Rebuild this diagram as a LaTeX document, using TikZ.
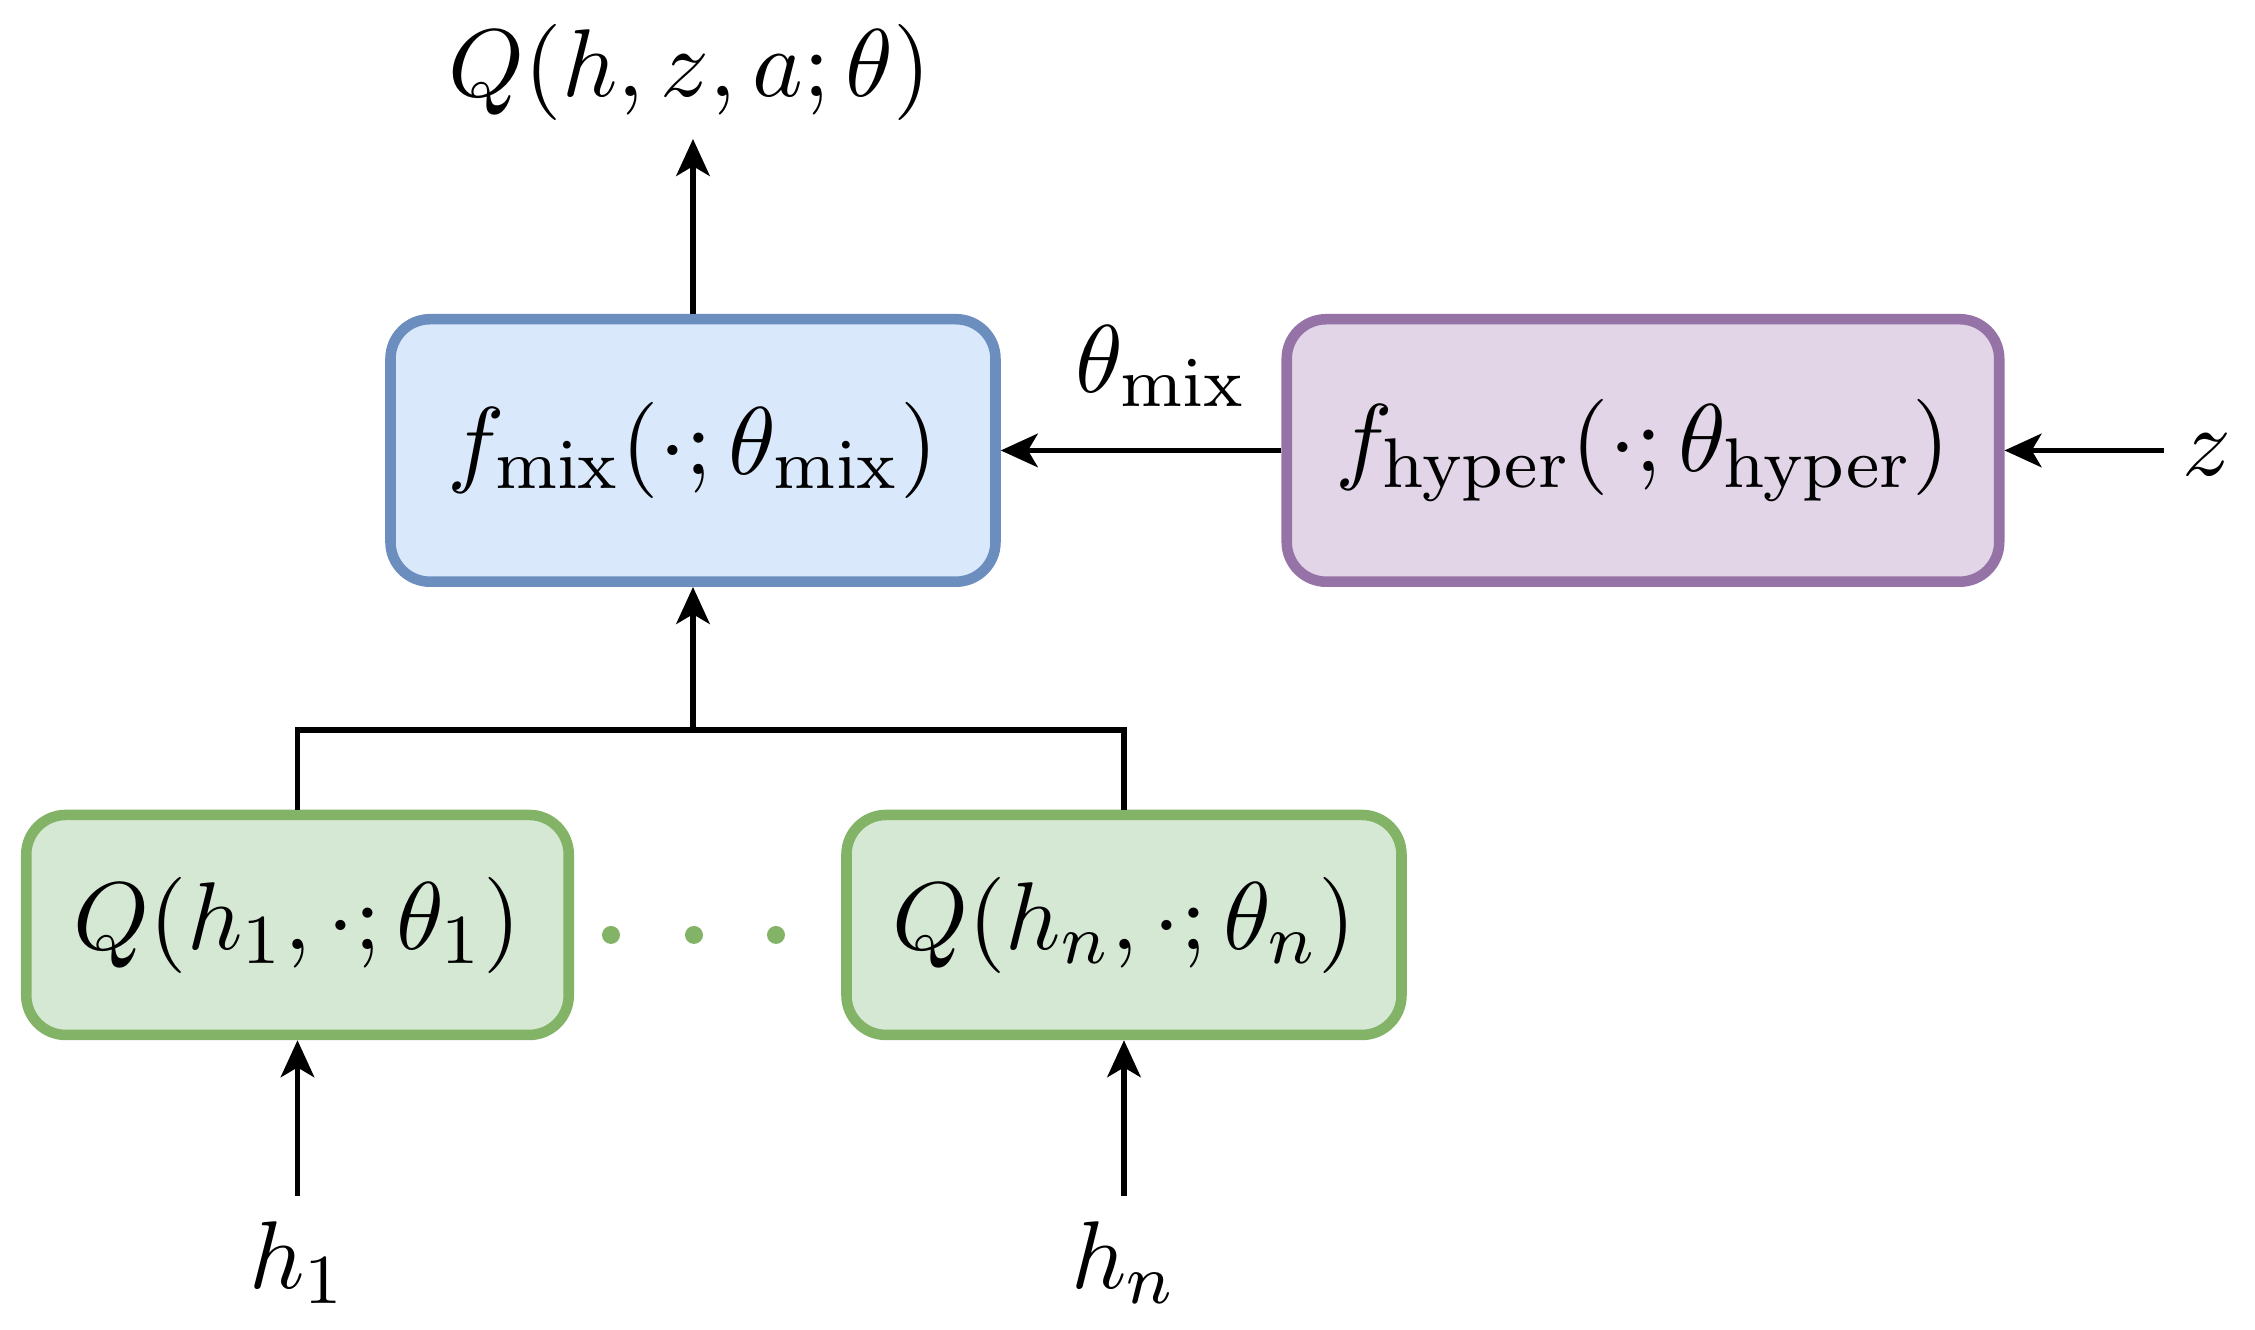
\documentclass[11pt,tikz,border=0pt]{standalone}
\usepackage{amsmath}
\usepackage{tikz}
\usetikzlibrary{arrows.meta, positioning}

\definecolor{mixfill}{HTML}{DAE8FC}
\definecolor{mixdraw}{HTML}{6C8EBF}
\definecolor{hypfill}{HTML}{E1D5E7}
\definecolor{hypdraw}{HTML}{9673A6}
\definecolor{agtfill}{HTML}{D5E8D4}
\definecolor{agtdraw}{HTML}{82B366}

\begin{document}
\begin{tikzpicture}[
    block/.style={draw, line width=1.2pt, rounded corners=4.5pt, minimum height=1.05cm, inner sep=2pt},
    mixbox/.style={block, draw=mixdraw, fill=mixfill, minimum width=2.42cm},
    hypbox/.style={block, draw=hypdraw, fill=hypfill, minimum width=2.85cm},
    agtbox/.style={block, draw=agtdraw, fill=agtfill, minimum height=0.88cm},
    flow/.style={-{Stealth[length=4.2pt, width=3.8pt, inset=1.1pt]}, line width=0.65pt},
    lbl/.style={inner sep=1pt}
]
\useasboundingbox (0,0) rectangle (9.02,5.32);

% Boxes
\node[mixbox] (mix) at (2.772,3.518) {$f_{\mathrm{mix}}(\cdot;\theta_{\mathrm{mix}})$};
\node[hypbox] (hyper) at (6.572,3.518) {$f_{\mathrm{hyper}}(\cdot;\theta_{\mathrm{hyper}})$};
\node[agtbox, minimum width=2.17cm] (q1) at (1.19,1.62) {$Q(h_1,\cdot;\theta_1)$};
\node[agtbox, minimum width=2.22cm] (qn) at (4.496,1.62) {$Q(h_n,\cdot;\theta_n)$};

% Labels
\node[lbl] (qtot) at (2.76,5.03) {$Q(h,z,a;\theta)$};
\node[lbl] (hone) at (1.192,0.27) {$h_1$};
\node[lbl] (hn) at (4.496,0.27) {$h_n$};
\node[lbl] (zin) at (8.83,3.50) {$z$};

% Dots
\foreach \x in {2.444,2.776,3.104}
    \fill[agtdraw] (\x,1.58) circle (0.036);

% Arrows
\coordinate (join) at (2.772,2.40);
\coordinate (qtop) at (2.772,4.764);
\coordinate (zend) at (8.656,3.518);
\coordinate (h1end) at (1.19,0.536);
\coordinate (hnend) at (4.496,0.536);

\draw[flow] (mix) -- (qtop);
\draw[flow] (hyper) -- node[above, xshift=0.08cm, yshift=1pt] {$\theta_{\mathrm{mix}}$} (mix);
\draw[flow] (zend) -- (hyper);
\draw[line width=0.65pt] (q1.north) |- (join) -| (qn.north);
\draw[flow] (join) -- (mix);
\draw[flow] (h1end) -- (q1);
\draw[flow] (hnend) -- (qn);
\end{tikzpicture}
\end{document}
